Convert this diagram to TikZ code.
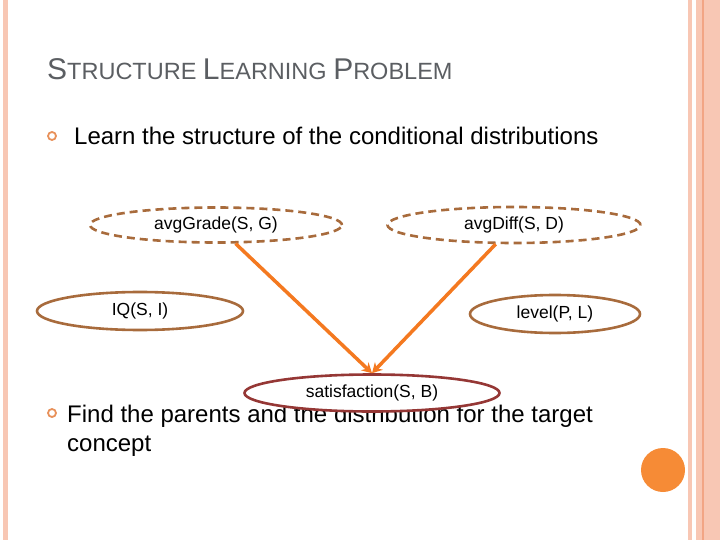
\documentclass[tikz,border=0pt]{standalone}
\usepackage{fontspec}
\setmainfont{Liberation Sans}
\usetikzlibrary{shapes.geometric,arrows.meta}
\definecolor{stripe}{HTML}{F8C7B4}
\definecolor{stripedark}{HTML}{F2A585}
\definecolor{titlegray}{HTML}{5B5E62}
\definecolor{bulletorange}{HTML}{E8915A}
\definecolor{nodebrown}{HTML}{A86B3C}
\definecolor{targetred}{HTML}{953735}
\definecolor{arroworange}{HTML}{F47920}
\definecolor{dotorange}{HTML}{F68B36}

\begin{document}
\begin{tikzpicture}[x=1pt,y=-1pt,
  var/.style={ellipse,draw=nodebrown,line width=2.6pt,fill=white,inner sep=0pt,
    font=\fontsize{17.5}{20}\selectfont},
  latent/.style={var,dash pattern=on 8pt off 5pt},
  target/.style={var,draw=targetred},
  parent/.style={draw=arroworange,line width=3.5pt,-{Stealth[length=10pt,width=11pt]}},
  bulletring/.style={circle,draw=bulletorange,line width=1.8pt,minimum size=8pt,inner sep=0pt},
  bodytext/.style={anchor=base west,inner sep=0pt,font=\fontsize{24}{29}\selectfont}]
  \useasboundingbox (0,0) rectangle (720,540);

  % Side stripes
  \fill[stripe] (3,0) rectangle (8,540);
  \fill[stripe] (688,0) rectangle (692,540);
  \fill[stripe] (696,0) rectangle (720,540);
  \fill[stripedark] (702,0) rectangle (703.5,540);

  % Title
  \node[anchor=base west,inner sep=0pt,text=titlegray] (title) at (47,80)
    {{\fontsize{30}{34}\selectfont S}{\fontsize{23.5}{27}\selectfont TRUCTURE }%
     {\fontsize{30}{34}\selectfont L}{\fontsize{23.5}{27}\selectfont EARNING }%
     {\fontsize{30}{34}\selectfont P}{\fontsize{23.5}{27}\selectfont ROBLEM}};

  % Bullets
  \node[bulletring] (b1) at (52,136) {};
  \node[bodytext] (learn) at (74,145) {Learn the structure of the conditional distributions};
  \node[bulletring] (b2) at (52,413) {};
  \node[bodytext] (find) at (67,422) {Find the parents and the distribution for the target};
  \node[bodytext] (concept) at (67,451) {concept};

  % Candidate parents
  \node[latent,minimum width=252pt,minimum height=35pt] (grade) at (216,225) {avgGrade(S, G)};
  \node[latent,minimum width=253pt,minimum height=36pt] (diff) at (514,225) {avgDiff(S, D)};
  \node[var,minimum width=206pt,minimum height=38pt] (iq) at (140,311) {IQ(S, I)};
  \node[var,minimum width=170pt,minimum height=38pt] (level) at (555,314) {level(P, L)};

  % Target concept
  \node[target,minimum width=255pt,minimum height=37pt] (sat) at (372,393) {satisfaction(S, B)};

  % Parent links
  \draw[parent] (grade) -- (sat.north);
  \draw[parent] (diff) -- (sat.north);

  % Corner dot
  \fill[dotorange] (663,470) circle (22);
\end{tikzpicture}
\end{document}
